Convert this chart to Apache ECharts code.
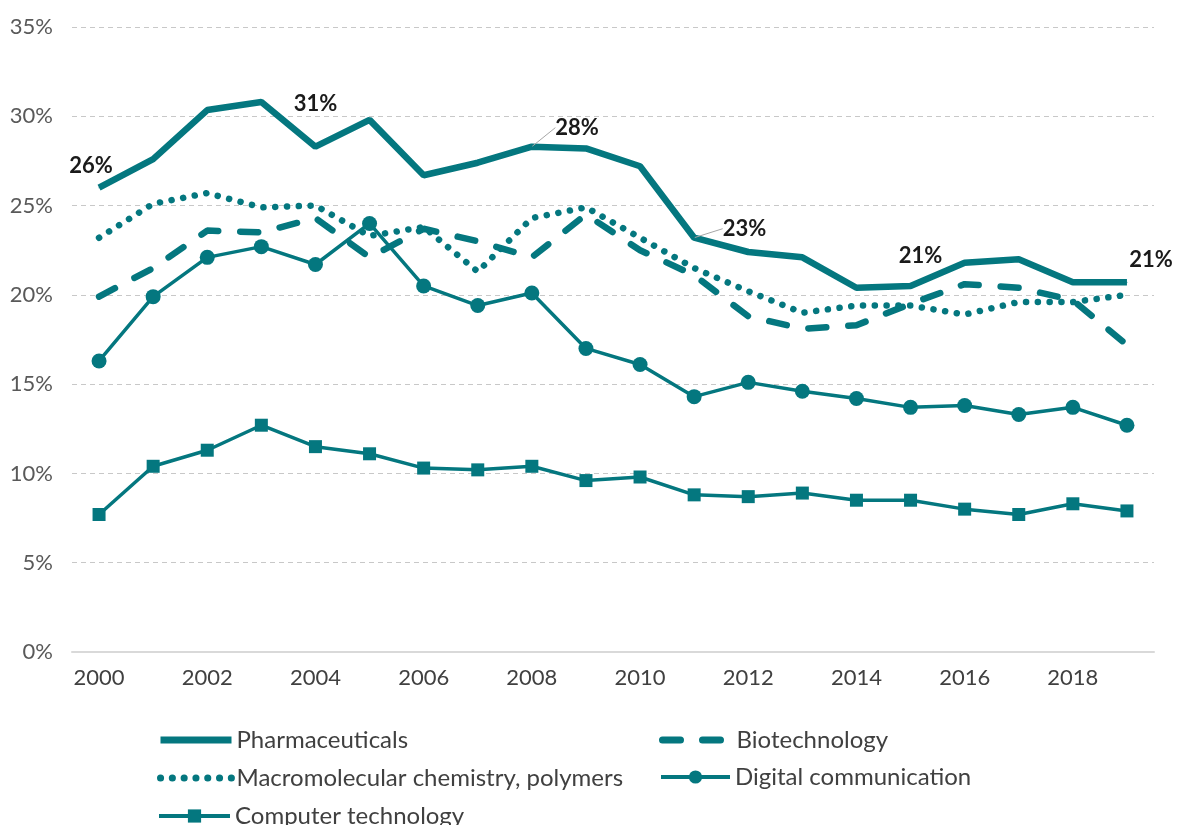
<!DOCTYPE html>
<html>
<head>
<meta charset="utf-8">
<script src="https://cdn.jsdelivr.net/npm/echarts@6/dist/echarts.min.js"></script>
<style>
  html, body { margin: 0; padding: 0; background: #fff; }
  #main { width: 1183px; height: 825px; }
</style>
</head>
<body>
<div id="main"></div>
<script>
// 数据
const years = ["2000","2001","2002","2003","2004","2005","2006","2007","2008","2009",
  "2010","2011","2012","2013","2014","2015","2016","2017","2018","2019"];
const pharma = [26.0,27.6,30.35,30.8,28.3,29.8,26.7,27.4,28.3,28.2,27.2,23.2,22.4,22.1,20.4,20.5,21.8,22.0,20.7,20.7];
const biotech = [19.9,21.5,23.6,23.5,24.3,22.1,23.7,23.0,22.1,24.5,22.5,21.1,18.8,18.1,18.3,19.5,20.6,20.4,19.7,17.2];
const macro = [23.2,25.1,25.7,24.9,25.0,23.3,23.8,21.3,24.3,24.9,23.2,21.5,20.2,19.0,19.4,19.4,18.9,19.6,19.6,20.0];
const digital = [16.3,19.9,22.1,22.7,21.7,24.0,20.5,19.4,20.1,17.0,16.1,14.3,15.1,14.6,14.2,13.7,13.8,13.3,13.7,12.7];
const computer = [7.7,10.4,11.3,12.7,11.5,11.1,10.3,10.2,10.4,9.6,9.8,8.8,8.7,8.9,8.5,8.5,8.0,7.7,8.3,7.9];
const pharmaLabels = { 0: "26%", 3: "31%", 8: "28%", 11: "23%", 15: "21%", 19: "21%" };

const teal = "#04777f";
const font = "Lato, 'Open Sans', sans-serif";

const chart = echarts.init(document.getElementById("main"));

// 只给部分点加标签
const pharmaData = pharma.map(function(v, i) {
  const txt = pharmaLabels[i];
  if (!txt) return v;
  const item = {
    value: v,
    label: { show: true, formatter: txt, position: "top" }
  };
  if (i === 3 || i === 8 || i === 11) item.label.position = "right";
  if (i === 8 || i === 11) item.labelLine = { show: true };
  return item;
});

// 标签微调（像素）
const labelShift = {
  0: [-8, -5],
  3: [27, 2],
  8: [18, -19],
  11: [23, -9],
  15: [10, -14],
  19: [24, -6]
};

// 图例：每项单独放
function makeLegend(name, left, top, w, h, lw) {
  const hideSymbol = name === "Pharmaceuticals" || name === "Biotechnology" ||
    name === "Macromolecular chemistry, polymers";
  return {
    left: left,
    top: top,
    padding: 0,
    itemWidth: w,
    itemHeight: h,
    data: [{
      name: name,
      itemStyle: hideSymbol ? { opacity: 0 } : {},
      lineStyle: { width: lw }
    }],
    textStyle: { fontFamily: font, fontSize: 24, color: "#404040" }
  };
}

const option = {
  animation: false,
  textStyle: { fontFamily: font },
  grid: { left: 72, right: 29, top: 27, bottom: 173 },
  legend: [
    makeLegend("Pharmaceuticals", 157, 728, 71, 14, 7),
    makeLegend("Biotechnology", 659, 728, 69, 14, 7),
    makeLegend("Macromolecular chemistry, polymers", 157, 766, 71, 14, 7),
    makeLegend("Digital communication", 659, 765, 69, 16.5, 4),
    makeLegend("Computer technology", 157, 804, 71, 16.5, 4)
  ],
  xAxis: {
    type: "category",
    data: years,
    boundaryGap: true,
    axisLine: { lineStyle: { color: "#d9d9d9", width: 2 } },
    axisTick: { show: false },
    axisLabel: {
      interval: 1,
      margin: 15,
      fontSize: 22,
      color: "#404040",
      fontFamily: font
    }
  },
  yAxis: {
    type: "value",
    min: 0,
    max: 35,
    interval: 5,
    axisLine: { show: false },
    axisTick: { show: false },
    axisLabel: {
      formatter: "{value}%",
      margin: 19,
      fontSize: 22,
      color: "#595959",
      fontFamily: font
    },
    splitLine: { lineStyle: { color: "#c8c8c8", type: [5, 4], width: 1 } }
  },
  series: [
    {
      name: "Pharmaceuticals",
      type: "line",
      data: pharmaData,
      symbol: "circle",
      symbolSize: 1,
      showAllSymbol: true,
      color: teal,
      itemStyle: { color: teal },
      lineStyle: { width: 6.5, color: teal },
      label: { fontSize: 22, fontWeight: "bold", color: "#1a1a1a", fontFamily: font },
      labelLine: { lineStyle: { color: "#a6a6a6", width: 1 } },
      labelLayout: function(p) {
        const s = labelShift[p.dataIndex];
        if (s) return { dx: s[0], dy: s[1] };
      },
      z: 5
    },
    {
      name: "Biotechnology",
      type: "line",
      data: biotech,
      symbol: "none",
      color: teal,
      lineStyle: { width: 6.5, color: teal, type: [18, 22], cap: "round" }
    },
    {
      name: "Macromolecular chemistry, polymers",
      type: "line",
      data: macro,
      symbol: "none",
      color: teal,
      lineStyle: { width: 6.5, color: teal, type: [0.1, 11.7], cap: "round" }
    },
    {
      name: "Digital communication",
      type: "line",
      data: digital,
      symbol: "circle",
      symbolSize: 15,
      showAllSymbol: true,
      color: teal,
      itemStyle: { color: teal },
      lineStyle: { width: 3.5, color: teal }
    },
    {
      name: "Computer technology",
      type: "line",
      data: computer,
      symbol: "rect",
      symbolSize: 13,
      showAllSymbol: true,
      color: teal,
      itemStyle: { color: teal },
      lineStyle: { width: 3.5, color: teal }
    }
  ]
};

chart.setOption(option);
</script>
</body>
</html>
